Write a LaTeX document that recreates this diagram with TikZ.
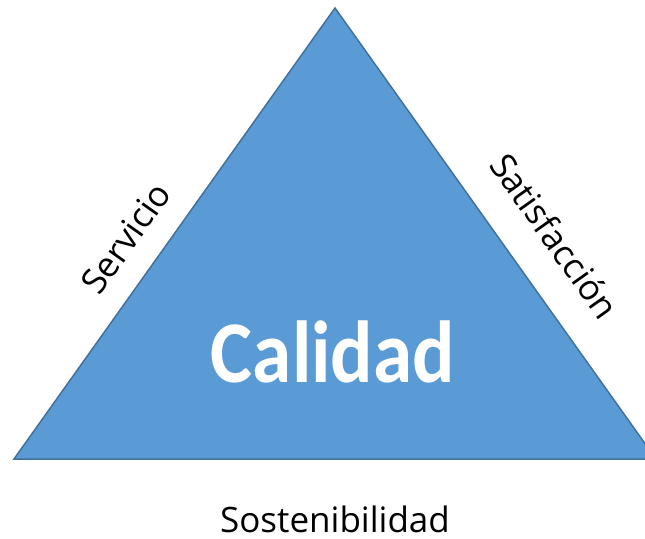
\documentclass[tikz,border=0pt]{standalone}
\usepackage{fontspec}
\setmainfont{Open Sans}
\newfontfamily\calfont{Carlito}
\usepackage{xcolor}
\definecolor{triblue}{RGB}{91,155,213}
\definecolor{triedge}{RGB}{65,113,156}

\begin{document}
\begin{tikzpicture}[x=1pt,y=-1pt,
  sidelabel/.style={font=\fontsize{35}{35}\selectfont, text=black, inner sep=0pt}]

  % Frame
  \useasboundingbox (0,0) rectangle (645,538);
  \clip (0,0) rectangle (645,538);

  % Corners
  \coordinate (top) at (335,8);
  \coordinate (left) at (14,459);
  \coordinate (right) at (656,459);

  % Triangle
  \filldraw[fill=triblue, draw=triedge, line width=1.5pt, line join=miter] (top) -- (right) -- (left) -- cycle;

  % Labels
  \node[font=\calfont\fontsize{88}{88}\selectfont\bfseries, text=white, anchor=base,
        xscale=0.9, transform shape] (calidad) at (333,382) {Calidad};
  \node[sidelabel, rotate=54.6] (servicio) at (126,238) {Servicio};
  \node[sidelabel, rotate=-54.6] (satisf) at (555,236) {Satisfacción};
  \node[sidelabel, anchor=base] (sosten) at (335,532) {Sostenibilidad};

\end{tikzpicture}
\end{document}
